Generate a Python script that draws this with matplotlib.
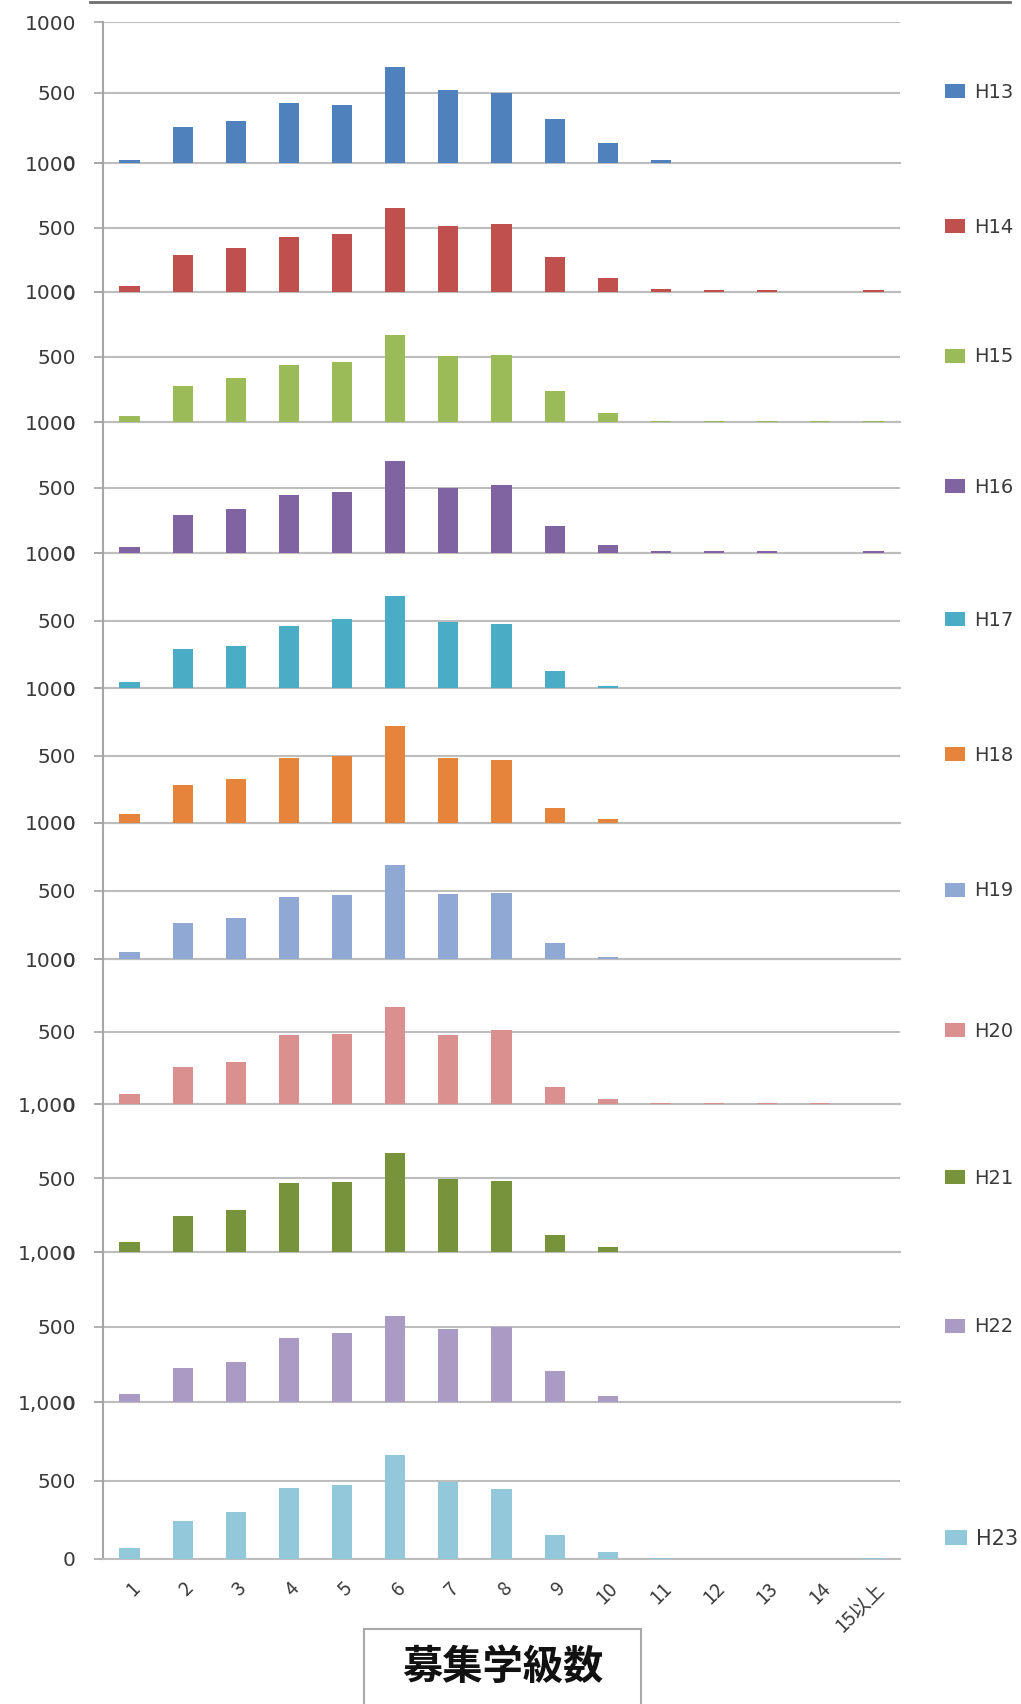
import matplotlib
matplotlib.use("Agg")
import matplotlib.pyplot as plt
from matplotlib.patches import Rectangle
from matplotlib.lines import Line2D
import numpy as np

# ---- data -------------------------------------------------------------
categories = ["1", "2", "3", "4", "5", "6", "7", "8", "9", "10",
              "11", "12", "13", "14", "15以上"]
years = ["H13", "H14", "H15", "H16", "H17", "H18",
         "H19", "H20", "H21", "H22", "H23"]

h13 = [20, 256, 300, 422, 408, 680, 515, 500, 315, 145, 20, 0, 0, 0, 0]
h14 = [48, 285, 344, 425, 448, 651, 508, 530, 271, 110, 20, 12, 12, 0, 12]
h15 = [50, 275, 342, 442, 458, 667, 508, 517, 242, 67, 5, 4, 4, 4, 5]
h16 = [42, 292, 333, 442, 467, 700, 500, 517, 208, 58, 15, 15, 15, 0, 15]
h17 = [41, 287, 311, 459, 508, 680, 492, 475, 123, 16, 0, 0, 0, 0, 0]
h18 = [65, 282, 323, 484, 495, 722, 478, 470, 113, 32, 0, 0, 0, 0, 0]
h19 = [49, 262, 303, 459, 467, 692, 477, 487, 115, 16, 0, 0, 0, 0, 0]
h20 = [67, 254, 291, 478, 485, 672, 478, 507, 119, 37, 4, 4, 4, 4, 0]
h21 = [66, 243, 287, 463, 471, 669, 493, 478, 118, 37, 3, 0, 0, 0, 3]
h22 = [51, 228, 265, 426, 463, 574, 485, 500, 206, 37, 3, 0, 0, 0, 0]
h23 = [69, 243, 299, 451, 472, 660, 493, 444, 153, 42, 5, 0, 0, 0, 5]
series = [h13, h14, h15, h16, h17, h18, h19, h20, h21, h22, h23]

colors = ["#4F81BD", "#C0504D", "#9BBB59", "#8064A2", "#4BACC6", "#E5843A",
          "#8FA8D4", "#D9908F", "#77933C", "#A99BC4", "#92C8DA"]

# y tick labels: later panels use a thousands separator
top_labels = ["1000"] * 8 + ["1,000"] * 3

# ---- layout (pixel rows of each panel) --------------------------------
W, H = 1021, 1704
panel_tops = [22, 163, 292, 422, 553, 688, 823, 959, 1104, 1252, 1402]
panel_bottoms = [163, 292, 422, 553, 688, 823, 959, 1104, 1252, 1402, 1559]
legend_y = [0.5] * 10 + [0.13]
left_px, right_px = 103, 900

grid_col = "#BDBDBD"
axis_col = "#A6A6A6"
text_col = "#3A3A3A"

fig = plt.figure(figsize=(W / 100, H / 100), dpi=100)
fig.patch.set_facecolor("white")

x = np.arange(len(categories))
for i, (year, vals) in enumerate(zip(years, series)):
    top, bot = panel_tops[i], panel_bottoms[i]
    ax = fig.add_axes([left_px / W, 1 - bot / H,
                       (right_px - left_px) / W, (bot - top) / H])
    ax.patch.set_alpha(0)
    ax.bar(x, vals, width=0.38, color=colors[i], label=year, zorder=3)
    ax.set_xlim(-0.5, len(categories) - 0.5)
    ax.set_ylim(0, 1000)
    ax.set_yticks([0, 500, 1000])
    ax.set_yticklabels(["0", "500", top_labels[i]])
    ax.yaxis.grid(True, color=grid_col, linewidth=1.5)
    ax.set_axisbelow(True)
    for s in ("top", "right"):
        ax.spines[s].set_visible(False)
    ax.spines["left"].set_color(axis_col)
    ax.spines["left"].set_linewidth(1.5)
    ax.spines["bottom"].set_color(grid_col)
    ax.spines["bottom"].set_linewidth(1.5)
    ax.tick_params(axis="y", length=6.5, width=1.2, color=axis_col,
                   pad=13, labelsize=14.5, labelcolor=text_col)
    for lab in ax.get_yticklabels():
        lab.set_family("DejaVu Sans")
    if i == len(years) - 1:
        ax.set_xticks(x)
        ax.set_xticklabels(categories, rotation=45, ha="right",
                           va="top", rotation_mode="anchor",
                           family=["Liberation Sans Narrow", "Noto Sans CJK JP"],
                           fontsize=14, color=text_col)
        ax.tick_params(axis="x", length=0, pad=14)
    else:
        ax.set_xticks([])
    leg_font = ("Liberation Sans Narrow" if i == len(years) - 1
                else "DejaVu Sans")
    leg_size = 15 if i == len(years) - 1 else 14
    ax.legend(loc="center left",
              bbox_to_anchor=((945 - left_px) / (right_px - left_px), legend_y[i]),
              frameon=False, borderaxespad=0, borderpad=0,
              handlelength=1.05, handleheight=0.75, handletextpad=0.45,
              prop={"family": leg_font, "size": leg_size},
              labelcolor=text_col)

# frame edge running along the top
fig.add_artist(Line2D([90 / W, 1010 / W], [1 - 1.5 / H, 1 - 1.5 / H],
                      transform=fig.transFigure, color="#6E6E6E", lw=2))

# boxed axis title
fig.add_artist(Rectangle((364 / W, 1 - 1710 / H), (641 - 364) / W, (1710 - 1629) / H,
                         transform=fig.transFigure, facecolor="white",
                         edgecolor="#A8A8A8", lw=1.5))
fig.text(503 / W, 1 - 1667 / H, "募集学級数", ha="center", va="center",
         fontsize=29, fontweight="bold", family="Noto Sans CJK JP",
         color="#111111")

fig.savefig("out.png", dpi=100)
